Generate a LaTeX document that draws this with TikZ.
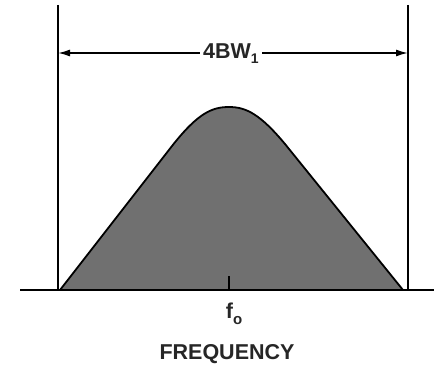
\documentclass[tikz,border=0pt]{standalone}
\usepackage{fontspec}
\setmainfont{Liberation Sans}
\usetikzlibrary{arrows.meta}
\begin{document}
\begin{tikzpicture}[x=1pt,y=-1pt,
  line/.style={line width=1.5pt,black},
  dim/.style={line width=1.5pt,black,{Latex[length=12pt,width=7pt]}-{Latex[length=12pt,width=7pt]}},
  lbl/.style={font=\fontsize{21.5}{24}\selectfont\bfseries,inner sep=1pt,text=black!85}]
\useasboundingbox (0,0) rectangle (442,369);
% coordinates
\coordinate (lt) at (58,5);
\coordinate (lb) at (58,290);
\coordinate (rt) at (408,5);
\coordinate (rb) at (408,290);
\coordinate (ax0) at (20,290);
\coordinate (ax1) at (434,290);
\coordinate (da) at (58,53);
\coordinate (db) at (408,53);
\coordinate (tk0) at (229,276);
\coordinate (tk1) at (229,290);
% filled curve
\fill[fill=black!56] (60,290) -- (172,146) .. controls (198,113) and (212,107) .. (229,107) .. controls (246,107) and (260,114) .. (285,144) -- (403,290) -- cycle;
\draw[line,line width=1.8pt,line join=round] (60,290) -- (172,146) .. controls (198,113) and (212,107) .. (229,107) .. controls (246,107) and (260,114) .. (285,144) -- (403,290);
% verticals and axis
\draw[line] (lt) -- (lb);
\draw[line] (rt) -- (rb);
\draw[line] (ax0) -- (ax1);
\draw[line] (tk0) -- (tk1);
% dimension
\draw[dim] (da) -- (db);
\node[lbl,fill=white,inner xsep=3pt] (bw) at (231,54) {4BW\raisebox{-5pt}{\fontsize{14}{15}\selectfont 1}};
\node[lbl] (f0) at (234,314) {f\raisebox{-6pt}{\fontsize{15}{16}\selectfont o}};
\node[lbl] (fr) at (227,354) {FREQUENCY};
\end{tikzpicture}
\end{document}
